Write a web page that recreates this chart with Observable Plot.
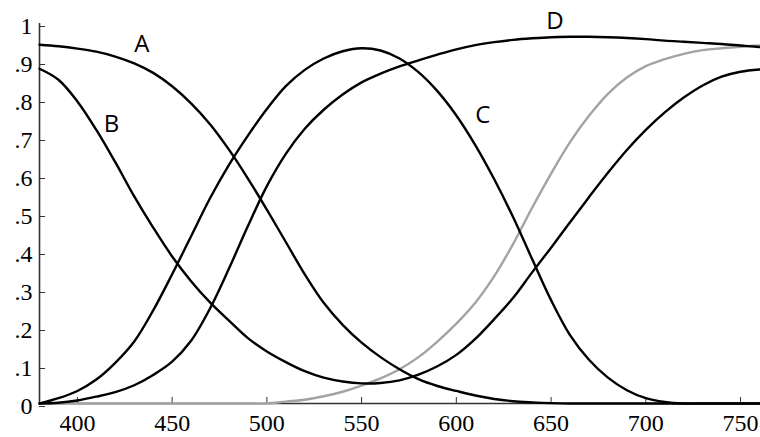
<!DOCTYPE html>
<html><head><meta charset="utf-8">
<script src="https://cdn.jsdelivr.net/npm/d3@7"></script>
<script src="https://cdn.jsdelivr.net/npm/@observablehq/plot@0.6"></script>
<style>
body{margin:0;background:#fff}
#chart g[aria-label="x-axis tick label"] text,
#chart g[aria-label="y-axis tick label"] text { font-family: "Liberation Serif", "Times New Roman", serif !important; font-size: 24px !important; }
#chart g[aria-label="text"] text { font-family: "Open Sans", sans-serif !important; font-size: 24px !important; }
</style>
</head><body><div id="chart"></div>
<script>
const wavelengths = [380,390,400,410,420,430,440,450,460,470,480,490,500,510,520,530,540,550,560,570,580,590,600,610,620,630,640,650,660,670,680,690,700,710,720,730,740,750,760];
const curveA = [0.944,0.940,0.934,0.926,0.913,0.895,0.870,0.835,0.790,0.735,0.668,0.592,0.510,0.425,0.340,0.265,0.207,0.160,0.122,0.090,0.064,0.046,0.033,0.021,0.012,0.006,0.003,0.001,0,0,0,0,0,0,0,0,0,0,0];
const curveB = [0.881,0.852,0.795,0.720,0.635,0.545,0.463,0.387,0.322,0.266,0.218,0.172,0.137,0.109,0.085,0.068,0.058,0.053,0.054,0.061,0.076,0.098,0.128,0.170,0.222,0.278,0.345,0.410,0.477,0.543,0.607,0.667,0.720,0.766,0.805,0.837,0.860,0.873,0.879];
const curveC = [0,0.014,0.033,0.063,0.107,0.163,0.245,0.340,0.440,0.540,0.628,0.705,0.775,0.835,0.878,0.908,0.927,0.935,0.929,0.908,0.872,0.822,0.758,0.680,0.590,0.490,0.380,0.272,0.180,0.115,0.068,0.035,0.014,0.004,0,0,0,0,0];
const curveD = [0,0.002,0.008,0.018,0.030,0.048,0.075,0.110,0.165,0.250,0.355,0.467,0.572,0.657,0.723,0.773,0.813,0.845,0.868,0.887,0.903,0.918,0.932,0.943,0.951,0.957,0.961,0.964,0.965,0.965,0.964,0.962,0.959,0.955,0.952,0.949,0.946,0.942,0.938];
const curveGray = [0,0,0,0,0,0,0,0,0,0,0,0,0,0.005,0.010,0.019,0.031,0.047,0.066,0.090,0.122,0.163,0.210,0.265,0.335,0.420,0.515,0.605,0.688,0.757,0.815,0.858,0.888,0.906,0.920,0.930,0.935,0.939,0.942];

const xTicks = [400,450,500,550,600,650,700,750];
const yTicks = [0,0.1,0.2,0.3,0.4,0.5,0.6,0.7,0.8,0.9,1];
const yTickLabels = ["0",".1",".2",".3",".4",".5",".6",".7",".8",".9","1"];

const curveLabels = ["A","B","C","D"];
const curveLabelX = [434,418,614,652];
const curveLabelY = [0.945,0.734,0.758,1.005];

const serif = "Liberation Serif";
const toRows = vals => wavelengths.map((w,i) => ({w, v: vals[i]}));
const labelRows = curveLabels.map((t,i) => ({t, x: curveLabelX[i], y: curveLabelY[i]}));
const lineOpts = {x: "w", y: "v", curve: "catmull-rom", strokeWidth: 2.4};

const chart = Plot.plot({
  width: 760, height: 437,
  marginLeft: 39, marginRight: 1, marginTop: 23, marginBottom: 34,
  x: {domain: [380, 760]},
  y: {domain: [0, 1]},
  style: {background: "#fff", color: "#000"},
  marks: [
    Plot.axisX({ticks: xTicks, tickSize: -6, tickPadding: 16, tickFormat: d => String(d), stroke: "#333", fill: "#000", fontFamily: serif, fontSize: 24}),
    Plot.axisY({ticks: yTicks, tickSize: -6, tickPadding: 13, dy: 3, tickFormat: d => yTickLabels[yTicks.indexOf(d)], stroke: "#333", fill: "#000", fontFamily: serif, fontSize: 24}),
    Plot.ruleX([380], {stroke: "#333", strokeWidth: 1.6}),
    Plot.ruleY([0], {stroke: "#333", strokeWidth: 1.6}),
    Plot.line(toRows(curveGray), {...lineOpts, stroke: "#a3a3a3"}),
    Plot.line(toRows(curveA), {...lineOpts, stroke: "#000"}),
    Plot.line(toRows(curveB), {...lineOpts, stroke: "#000"}),
    Plot.line(toRows(curveC), {...lineOpts, stroke: "#000"}),
    Plot.line(toRows(curveD), {...lineOpts, stroke: "#000"}),
    Plot.text(labelRows, {x: "x", y: "y", text: "t", fontFamily: "Open Sans", fontSize: 24, fill: "#000"})
  ]
});
document.getElementById("chart").append(chart);
</script>
</body></html>
